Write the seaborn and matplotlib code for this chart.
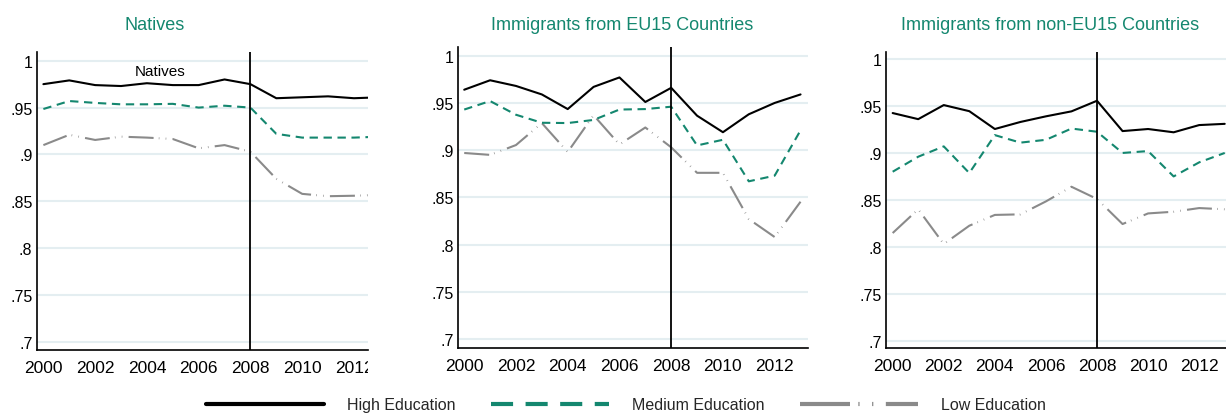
import matplotlib
matplotlib.use("Agg")
import matplotlib.pyplot as plt
import seaborn as sns
import pandas as pd
from matplotlib.lines import Line2D
from matplotlib.transforms import Bbox, TransformedBbox

years = list(range(2000, 2014))

# Natives
nat_high = [0.975, 0.979, 0.974, 0.973, 0.976, 0.974, 0.974, 0.980, 0.975, 0.960, 0.961, 0.962, 0.960, 0.961]
nat_med = [0.9485, 0.957, 0.955, 0.9535, 0.9535, 0.954, 0.950, 0.952, 0.950, 0.922, 0.918, 0.918, 0.918, 0.919]
nat_low = [0.910, 0.921, 0.9155, 0.919, 0.918, 0.9165, 0.9066, 0.910, 0.903, 0.874, 0.858, 0.8555, 0.856, 0.857]

# Immigrants from EU15
eu_high = [0.964, 0.974, 0.968, 0.959, 0.9435, 0.967, 0.977, 0.951, 0.966, 0.9365, 0.919, 0.938, 0.950, 0.959]
eu_med = [0.943, 0.952, 0.9375, 0.929, 0.9287, 0.932, 0.943, 0.9435, 0.946, 0.905, 0.911, 0.867, 0.873, 0.921]
eu_low = [0.897, 0.895, 0.9054, 0.9287, 0.898, 0.937, 0.906, 0.924, 0.903, 0.876, 0.876, 0.827, 0.808, 0.8454]

# Immigrants from non-EU15
neu_high = [0.9425, 0.936, 0.951, 0.9445, 0.9255, 0.933, 0.939, 0.9443, 0.9556, 0.9233, 0.9255, 0.922, 0.9297, 0.931]
neu_med = [0.880, 0.896, 0.907, 0.8786, 0.919, 0.911, 0.914, 0.926, 0.9226, 0.900, 0.902, 0.875, 0.890, 0.900]
neu_low = [0.8147, 0.840, 0.803, 0.8225, 0.834, 0.8346, 0.8484, 0.864, 0.851, 0.8243, 0.8356, 0.8374, 0.8413, 0.840]

titles = ["Natives", "Immigrants from EU15 Countries", "Immigrants from non-EU15 Countries"]
yticks = [0.7, 0.75, 0.8, 0.85, 0.9, 0.95, 1.0]
ytick_labels = [".7", ".75", ".8", ".85", ".9", ".95", "1"]
xticks = [2000, 2002, 2004, 2006, 2008, 2010, 2012]

TEAL = "#14876f"
GRAY = "#8a8a8a"

sns.set_style("white")
plt.rcParams["font.family"] = ["Liberation Sans", "DejaVu Sans"]

fig = plt.figure(figsize=(12.26, 4.14), dpi=100)

# axes boxes (left, bottom, width, height) and limits per panel
boxes = [[0.0299, 0.1522, 0.2702, 0.7198],
         [0.3738, 0.1570, 0.2855, 0.7263],
         [0.7227, 0.1562, 0.2773, 0.7164]]
xlims = [(1999.74, 2012.54), (1999.77, 2013.3), (1999.74, 2013.05)]
ylims = [(0.6915, 1.0093), (0.6905, 1.0089), (0.6919, 1.0078)]
title_x = [155, 622, 1050]

panels = [(nat_high, nat_med, nat_low), (eu_high, eu_med, eu_low), (neu_high, neu_med, neu_low)]

med_style = (0, (4, 2.7))
low_style = (0, (12, 2.5, 0.3, 3, 0.3, 3))

for i, (high, med, low) in enumerate(panels):
    ax = fig.add_axes(boxes[i])
    df = pd.DataFrame({"year": years, "high": high, "med": med, "low": low})
    for y in yticks:
        ax.axhline(y, color="#e4eef1", lw=1.5, zorder=0)
    sns.lineplot(data=df, x="year", y="low", ax=ax, color=GRAY, lw=1.5, linestyle=low_style)
    sns.lineplot(data=df, x="year", y="med", ax=ax, color=TEAL, lw=1.5, linestyle=med_style)
    sns.lineplot(data=df, x="year", y="high", ax=ax, color="black", lw=1.5)
    ax.axvline(2008, color="black", lw=1.3)
    ax.set_xlim(*xlims[i])
    ax.set_ylim(*ylims[i])
    ax.set_xticks(xticks)
    ax.set_yticks(yticks)
    ax.set_yticklabels(ytick_labels)
    ax.set_xlabel("")
    ax.set_ylabel("")
    ax.tick_params(axis="x", direction="in", length=5, width=1, pad=7, labelsize=12.5, colors="black")
    ax.tick_params(axis="y", direction="in", length=5, width=1, pad=3, labelsize=11.5, colors="black")
    for side in ["top", "right"]:
        ax.spines[side].set_visible(False)
    for side in ["left", "bottom"]:
        ax.spines[side].set_color("black")
        ax.spines[side].set_linewidth(1.2)
    fig.text(title_x[i] / 1226, 1 - 25 / 414, titles[i], color=TEAL, fontsize=13,
             ha="center", va="center")
    if i == 0:
        ax.text(2004.5, 0.989, "Natives", fontsize=11, ha="center", va="center", color="black")
        # last tick label is cut by the panel edge
        clip = TransformedBbox(Bbox.from_extents(0, 0, 368 / 1226, 1), fig.transFigure)
        for lab in ax.get_xticklabels():
            lab.set_clip_on(True)
            lab.set_clip_box(clip)

handles = [Line2D([], [], color="black", lw=3),
           Line2D([], [], color=TEAL, lw=3, linestyle=(0, (5.3, 3))),
           Line2D([], [], color=GRAY, lw=3, linestyle=(0, (12, 2, 0.3, 3, 0.3, 3)))]
fig.legend(handles, ["High Education", "Medium Education", "Low Education"],
           loc="center", bbox_to_anchor=(626 / 1226, 8 / 414), ncol=3, frameon=False,
           fontsize=11.5, handlelength=7.4, handletextpad=1.45, columnspacing=2.2)

fig.savefig("out.png", dpi=100)
